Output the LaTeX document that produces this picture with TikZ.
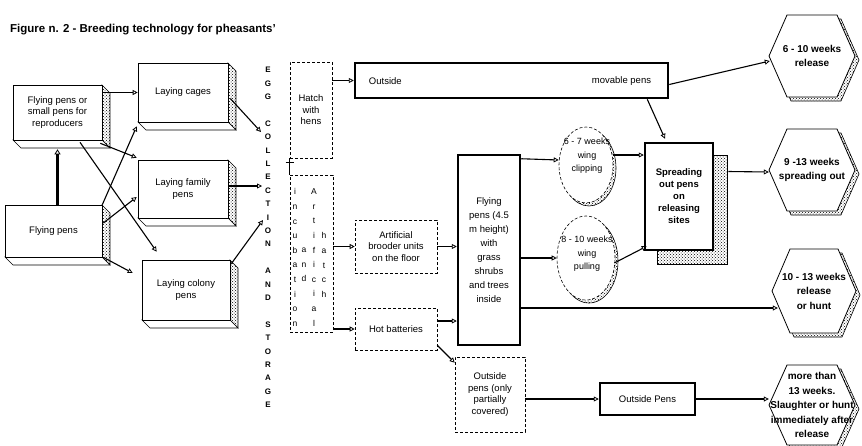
\documentclass[tikz,border=0pt]{standalone}
\usepackage{fontspec}
\setmainfont{Liberation Sans}
\usetikzlibrary{arrows.meta,patterns,calc,shapes.geometric}
\newcommand\nodefont{\fontsize{9.5}{11.5}\selectfont}
\newcommand\hexfont{\fontsize{10}{14.5}\selectfont\bfseries}
\newcommand\tdbox[6]{%
  \path[faceside] (#4,#3) -- (#4+8,#3+8) -- (#4+8,#5+8) -- (#4,#5) -- cycle;
  \draw[facebot] (#2,#5) -- (#2+8,#5+8) -- (#4+8,#5+8) -- (#4,#5) -- cycle;
  \node[fbox,minimum width={#4-#2},minimum height={#5-#3}] (#1) at ({(#2+#4)/2},{(#3+#5)/2}) {#6};}
\newcommand\hexa[7]{%
  \path[faceside] (#2-#4/2+4,#3+4) -- (#2-#4/2+#6+4,#3-#5/2+4) -- (#2+#4/2-#6+4,#3-#5/2+4) -- (#2+#4/2+4,#3+4) -- (#2+#4/2-#6+4,#3+#5/2+4) -- (#2-#4/2+#6+4,#3+#5/2+4) -- cycle;
  \draw[line width=0.8pt,fill=white] (#2-#4/2,#3) -- (#2-#4/2+#6,#3-#5/2) -- (#2+#4/2-#6,#3-#5/2) -- (#2+#4/2,#3) -- (#2+#4/2-#6,#3+#5/2) -- (#2-#4/2+#6,#3+#5/2) -- cycle;
  \node[hexlbl,minimum width=#4,minimum height=#5] (#1) at (#2,#3) {#7};}
\begin{document}
\begin{tikzpicture}[x=1pt,y=-1pt,
  conn/.style={line width=1.1pt,-{Triangle[open,length=5pt,width=5pt,line width=0.8pt]}},
  fbox/.style={draw,line width=0.6pt,fill=white,inner sep=0pt,align=center,font=\nodefont},
  dbox/.style={draw,densely dashed,line width=0.6pt,fill=white,inner sep=0pt,align=center,font=\nodefont},
  tbox/.style={draw,line width=2.5pt,fill=white,inner sep=0pt,align=center,font=\nodefont},
  faceside/.style={draw,line width=0.6pt,pattern=crosshatch dots},
  facebot/.style={draw,line width=0.6pt,fill=white},
  hexlbl/.style={inner sep=0pt,align=center,font=\hexfont},
  ell/.style={ellipse,draw,densely dashed,line width=0.6pt,fill=white,inner sep=0pt},
  elltxt/.style={inner sep=0pt,align=center,font=\fontsize{9}{13.5}\selectfont},
  colt/.style={inner sep=0pt,align=center,font=\fontsize{8.5}{14.6}\selectfont},
]
\useasboundingbox[fill=white] (0,0) rectangle (862,445);

\node[anchor=west,inner sep=0pt,font=\fontsize{11.5}{13}\selectfont\bfseries] (title) at (10,30) {Figure n. 2 - Breeding technology for pheasants'};

% left 3D boxes
\tdbox{repro}{13}{85}{102}{140}{Flying pens or\\small pens for\\reproducers}
\tdbox{fly}{5}{205}{102}{257}{Flying pens}
\tdbox{cag}{138}{63}{228}{122}{Laying cages}
\tdbox{fam}{138}{160}{228}{218}{Laying family\\pens}
\tdbox{col}{142}{260}{230}{320}{Laying colony\\pens}

% egg collection
\node[inner sep=0pt,align=center,font=\fontsize{8}{13.4}\selectfont\bfseries] (egg) at (268,237.5)
 {E\\G\\G\\\mbox{}\\C\\O\\L\\L\\E\\C\\T\\I\\O\\N\\\mbox{}\\A\\N\\D\\\mbox{}\\S\\T\\O\\R\\A\\G\\E};
\coordinate (ec1) at (261,132);
\coordinate (ec2) at (262,186);
\coordinate (ec3) at (263,220);

% hatch boxes
\node[dbox,minimum width=42,minimum height=96] (hatch) at (311,110) {Hatch\\with\\hens};
\node[dbox,minimum width=43,minimum height=157] (abox) at (311.5,253.5) {};
\node[colt] (c1) at (295,257.5) {i\\n\\c\\u\\b\\a\\t\\i\\o\\n};
\node[colt] (c2) at (304,265) {a\\n\\d};
\node[colt] (c3) at (314,257.5) {A\\r\\t\\i\\f\\i\\c\\i\\a\\l};
\node[colt] (c4) at (324,265) {h\\a\\t\\c\\h};
\draw[line width=1pt] (hatch.south west) -- (abox.north west);
\draw[line width=1pt] ($(hatch.south west)+(-4,4)$) -- ++(8,0);

% middle
\node[tbox,minimum width=313,minimum height=35] (mov) at (511.5,80.5) {};
\node[anchor=west,inner sep=0pt,font=\nodefont] (movl) at ($(mov.west)+(15,1)$) {Outside};
\node[anchor=east,inner sep=0pt,font=\nodefont] (movr) at ($(mov.east)+(-18,1)$) {movable pens};
\node[dbox,minimum width=82,minimum height=53] (brood) at (396,246.5) {Artificial\\brooder units\\on the floor};
\node[dbox,minimum width=82,minimum height=42] (hot) at (396,329) {Hot batteries};
\node[tbox,minimum width=62,minimum height=190,font=\fontsize{9.5}{14}\selectfont] (tall) at (489,250) {Flying\\pens (4.5\\m height)\\with\\grass\\shrubs\\and trees\\inside};
\node[dbox,minimum width=70,minimum height=75] (opens) at (490,394.5) {Outside\\pens (only\\partially\\covered)};
\node[tbox,minimum width=95,minimum height=32] (outp) at (647.5,399) {Outside Pens};

% ellipses
\path[faceside] (589,168) ellipse [x radius=27,y radius=38];
\node[ell,minimum width=54,minimum height=76] (e1) at (586,165) {};
\node[elltxt] (e1t) at (587,156) {6 - 7 weeks\\wing\\clipping};
\path[faceside] (589,261) ellipse [x radius=29,y radius=42];
\node[ell,minimum width=58,minimum height=84] (e2) at (586,258) {};
\node[elltxt] (e2t) at (587,254) {8 - 10 weeks\\wing\\pulling};

% spreading
\path[faceside] (657,155) rectangle (727,264);
\node[tbox,minimum width=68,minimum height=107,font=\fontsize{9.5}{12}\selectfont\bfseries] (spread) at (679,196.5) {Spreading\\out pens\\on\\releasing\\sites};

% hexagons
\hexa{h1}{812}{56}{86}{82}{18}{6 - 10 weeks\\release}
\hexa{h2}{812}{170}{86}{82}{18}{9 -13 weeks\\spreading out}
\hexa{h3}{814}{291}{84}{84}{18}{10 - 13 weeks\\release\\or hunt}
\hexa{h4}{812}{405}{86}{80}{18}{more than\\13 weeks.\\Slaughter or hunt\\immediately after\\release}

% left connectors
\draw[line width=2.5pt,-{Triangle[open,length=5pt,width=6pt,line width=0.8pt]}] (fly.north -| repro.south) -- ($(repro.south)+(0,9)$);
\draw[conn] (repro.east |- cag.west) -- (cag.west);
\draw[conn] (fly.north east) -- ($(cag.south west)+(-1,4)$);
\draw[conn] ($(repro.south east)+(-2,3)$) -- ($(fam.north west)+(-1,-2)$);
\draw[conn] ($(fly.east)+(1,-8)$) -- ($(fam.west)+(-1,8)$);
\draw[conn] ($(repro.south)+(22.5,2)$) -- ($(col.north west)+(15,-8)$);
\draw[conn] ($(fly.south east)+(1,0)$) -- ($(col.west)+(-9,-17)$);
% to egg collection
\draw[conn] ($(cag.east)+(2,6)$) -- (ec1);
\draw[conn] (fam.east |- ec2) -- (ec2);
\draw[conn] ($(col.north east)+(1,4)$) -- (ec3);

% middle connectors
\draw[conn] (hatch.east |- mov.west) -- (mov.west);
\draw[conn] (abox.east |- brood.west) -- (brood.west);
\draw[conn] (abox.east |- hot.west) -- (hot.west);
\draw[conn] (brood.east) -- (tall.west |- brood.east);
\draw[conn] ($(hot.east)+(0,-8)$) -- ($(tall.west |- hot.east)+(0,-8)$);
\draw[conn] ($(hot.south east)+(0,-5)$) -- ($(opens.north west)+(0,6)$);
\draw[conn] ($(tall.north east)+(0,5)$) -- ($(e1.west)+(0,-5)$);
\draw[conn] (tall.east |- e2.west) -- (e2.west);
\draw[conn] ($(e1.east)+(0,-10)$) -- ($(spread.west |- e1.east)+(0,-10)$);
\draw[conn] ($(e2.east)+(-1,5)$) -- ($(spread.south west)+(3,-5)$);
\draw[conn] ($(mov.south east)+(-22,0)$) -- ($(spread.north)+(-14,-3)$);
\draw[conn] ($(mov.east)+(0,4)$) -- ($(h1.west)+(1,5)$);
\draw[conn] ($(spread.east)+(14,-25)$) -- ($(h2.west)+(0,2)$);
\coordinate (h3p) at ($(h3.west)+(6,17)$);
\draw[conn] (tall.east |- h3p) -- (h3p);
\draw[conn] (opens.east |- outp.west) -- (outp.west);
\draw[conn] (outp.east) -- (outp.east -| h4.west);
\end{tikzpicture}
\end{document}
